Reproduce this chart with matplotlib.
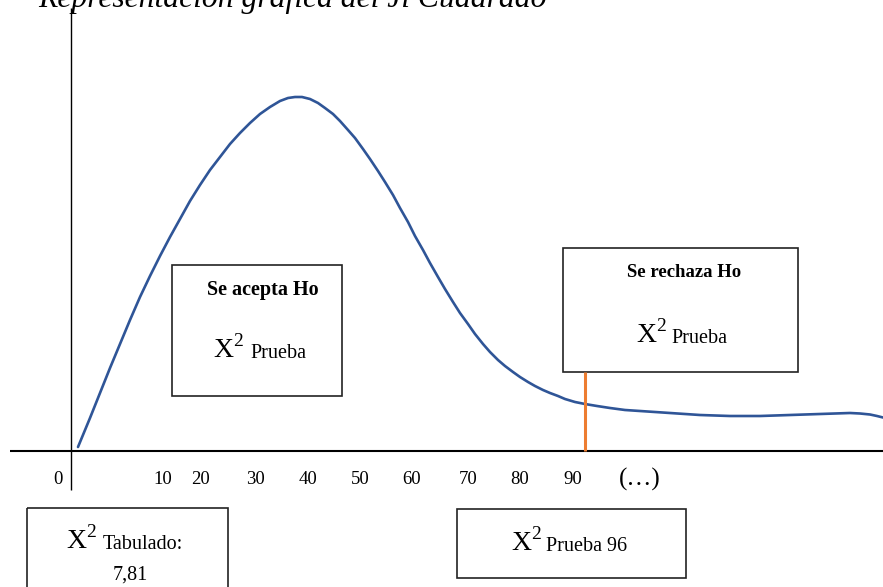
import matplotlib
matplotlib.use('Agg')
from matplotlib import pyplot as plt
from matplotlib.patches import Rectangle

plt.rcParams['font.family'] = ['Liberation Serif', 'DejaVu Serif']
plt.rcParams['mathtext.fontset'] = 'custom'
plt.rcParams['mathtext.rm'] = 'Liberation Serif'

# curve (pixel units, y grows downward)
curve_x = [78, 90, 100, 110, 120, 130, 140, 150, 160, 170, 180, 190, 200, 210, 220,
           230, 240, 250, 260, 270, 280, 288, 295, 302, 310, 318, 325, 333, 340,
           348, 355, 363, 370, 378, 385, 393, 400, 408, 415, 423, 430, 438, 445,
           453, 460, 468, 475, 483, 490, 498, 505, 513, 520, 528, 535, 543, 550,
           558, 565, 575, 585, 597, 610, 625, 640, 655, 670, 685, 700, 715, 730,
           745, 760, 775, 790, 805, 820, 835, 850, 860, 870, 877, 883]
curve_y = [447, 418, 393, 368, 344, 320, 297, 276, 256, 237, 219, 201, 185, 170, 157,
           144, 133, 123, 114, 107, 101, 98, 97, 97, 99, 103, 108, 114, 121,
           130, 138, 149, 159, 171, 182, 195, 208, 222, 236, 250, 263, 277, 289,
           302, 313, 324, 334, 344, 352, 360, 366, 372, 377, 382, 386, 390, 393,
           396, 399, 402, 404, 406, 408, 410, 411, 412, 413, 414, 415, 415.5, 416,
           416, 416, 415.5, 415, 414.5, 414, 413.5, 413, 413.5, 414.5, 416, 417.5]

tick_labels = ['0', '10', '20', '30', '40', '50', '60', '70', '80', '90']
tick_pos = [58, 163, 200, 255, 308, 360, 412, 468, 520, 573]

critical_x = 585

fig = plt.figure(figsize=(8.83, 5.87), dpi=100)
ax = fig.add_axes([0, 0, 1, 1])
ax.set_xlim(0, 883)
ax.set_ylim(587, 0)
ax.axis('off')

# axes lines
ax.plot([10, 883], [451, 451], color='black', lw=1.5, solid_capstyle='butt')
ax.plot([71, 71], [8, 490], color='black', lw=1.0, solid_capstyle='butt')

ax.plot(curve_x, curve_y, color='#2F5597', lw=1.9, solid_capstyle='round',
        solid_joinstyle='round')
ax.plot([critical_x, critical_x], [372, 451], color='#ED7D31', lw=2.2, solid_capstyle='butt')

for lab, xp in zip(tick_labels, tick_pos):
    ax.text(xp, 484, lab, ha='center', va='baseline', fontsize=13.5)
ax.text(640, 486, '(…)', ha='center', va='baseline', fontsize=18)

ax.text(38, 7, 'Representación gráfica del Ji Cuadrado', ha='left', va='baseline',
        fontsize=22.8, style='italic')

# boxes
boxes = [(172, 265, 170, 131), (563, 248, 235, 124), (27, 508, 201, 90), (457, 509, 229, 69)]
for bx, by, bw, bh in boxes:
    ax.add_patch(Rectangle((bx, by), bw, bh, fill=False, edgecolor='#222222', lw=1.2))

ax.text(263, 295, 'Se acepta Ho', ha='center', va='baseline', fontsize=14.5, fontweight='bold')
ax.text(684, 277, 'Se rechaza Ho', ha='center', va='baseline', fontsize=13.5, fontweight='bold')


def chi(x, y, label, xl):
    ax.text(x, y, r'$\mathrm{X}^{2}$', ha='left', va='baseline', fontsize=20)
    ax.text(xl, y, label, ha='left', va='baseline', fontsize=14.5)


chi(213, 358, 'Prueba', 250)
chi(636, 343, 'Prueba', 671)
chi(66, 549, 'Tabulado:', 103)
ax.text(130, 580, '7,81', ha='center', va='baseline', fontsize=14.5)
chi(511, 551, 'Prueba 96', 546)

fig.savefig('out.png', dpi=100)
